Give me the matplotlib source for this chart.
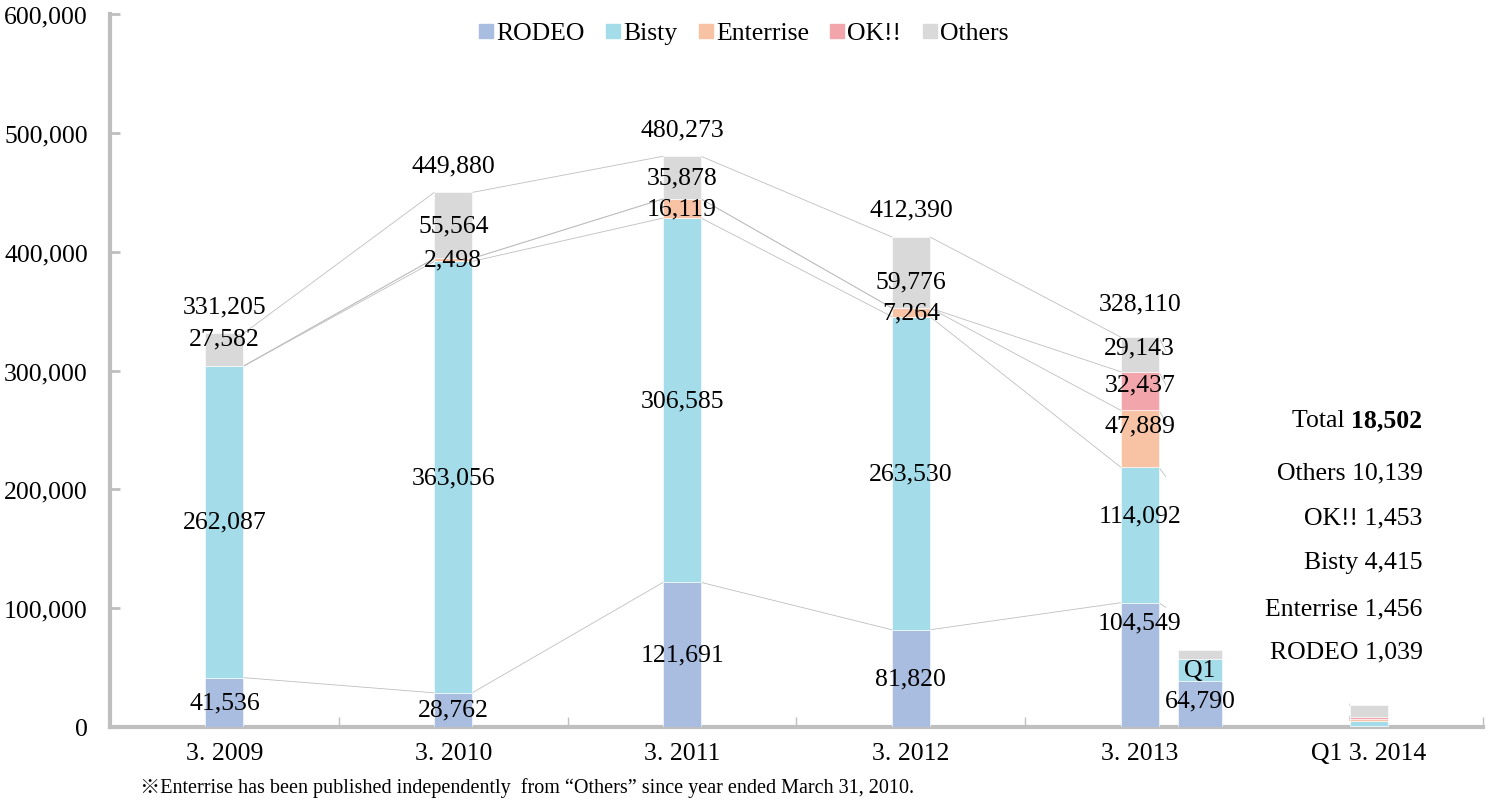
'''
Net sales by brand, stacked bars with Excel-style series lines
'''
import numpy as np
import matplotlib
matplotlib.use('Agg')
import matplotlib.pyplot as plt
from matplotlib.lines import Line2D
from matplotlib.patches import Rectangle

# ---- data ----
years = ['3. 2009', '3. 2010', '3. 2011', '3. 2012', '3. 2013', 'Q1 3. 2014']
brands = ['RODEO', 'Bisty', 'Enterrise', 'OK!!', 'Others']
rodeo = [41536, 28762, 121691, 81820, 104549, 1039]
bisty = [262087, 363056, 306585, 263530, 114092, 4415]
enterrise = [0, 2498, 16119, 7264, 47889, 1456]
okk = [0, 0, 0, 0, 32437, 1453]
others = [27582, 55564, 35878, 59776, 29143, 10139]
totals = [331205, 449880, 480273, 412390, 328110, 18502]

# Q1 of year ended 3.2013 (comparison bar)
q1_prev = [38700, 18500, 0, 0, 7590]
q1_prev_total = 64790

# ---- style ----
colors = ['#a9bde0', '#a5dcea', '#f7c3a4', '#f2a5aa', '#d9d9d9']
grey = '#bfbfbf'
FS = 18.5
plt.rcParams['font.family'] = ['Liberation Serif', 'Noto Sans CJK JP']

# manual label nudges in pixels (series index, category index) -> dy (+ = up)
nudge = {(4, 0): 11, (4, 3): -9, (4, 4): 7, (3, 4): 7, (2, 4): 13,
         (1, 4): 20, (0, 4): 42}
total_nudge = {4: 34}

fig = plt.figure(figsize=(14.94, 8.03), dpi=100)
ax = fig.add_axes([110/1494, 75/803, 1373/1494, 713/803])

def ydata(ypix):
    # pixel row of the reference -> data value
    return (728 - ypix) / 713 * 600000

series = [rodeo, bisty, enterrise, okk, others]
x = np.arange(len(years))
w = 0.166
bottom = np.zeros(len(years))
tops = []
for s, vals in enumerate(series):
    vals = np.array(vals, dtype=float)
    ax.bar(x, vals, w, bottom=bottom, color=colors[s], edgecolor='white',
           linewidth=0.4, zorder=3)
    for i, v in enumerate(vals):
        if v <= 0 or i == 5:
            continue
        dy = nudge.get((s, i), 0) * 0.72
        ax.annotate(f'{int(v):,}', (x[i], bottom[i] + v / 2), xytext=(0, dy),
                    textcoords='offset points', ha='center', va='center',
                    fontsize=FS, zorder=5)
    bottom = bottom + vals
    tops.append(bottom.copy())

# totals above bars
for i, t in enumerate(totals[:5]):
    dy = total_nudge.get(i, 27) * 0.72
    ax.annotate(f'{t:,}', (x[i], t), xytext=(0, dy), textcoords='offset points',
                ha='center', va='center', fontsize=FS, zorder=5)

# series lines between adjacent bars
for s in range(len(series)):
    for i in range(len(years) - 1):
        ax.plot([x[i] + w/2, x[i+1] - w/2], [tops[s][i], tops[s][i+1]],
                color=grey, lw=0.6, zorder=1)

# white text box over the lines (as in the original)
px = 1373 / 6.0
ax.add_patch(Rectangle((4 + (1166 - 1140)/px, 100), (1349 - 1166)/px, 335000,
                       facecolor='white', edgecolor='none', zorder=2))

# Q1 comparison bar
xq = 4 + 0.264
wq = 0.19
b = 0.0
mids = []
for s, v in enumerate(q1_prev):
    if v > 0:
        ax.bar(xq, v, wq, bottom=b, color=colors[s], edgecolor='white',
               linewidth=0.4, zorder=3)
    mids.append(b + v/2)
    b += v
ax.text(xq, mids[1], 'Q1', ha='center', va='center', fontsize=FS, zorder=5)
ax.annotate(f'{q1_prev_total:,}', (xq, mids[0]), xytext=(0, 4*0.72),
            textcoords='offset points', ha='center', va='center',
            fontsize=FS, zorder=6)

# breakdown text for Q1 3.2014
xr = 5 + (1423 - 1369)/px
ypix = [421, 473, 518, 563, 609, 652]
tb = ax.text(xr, ydata(ypix[0]), f'{totals[5]:,}', ha='right', va='center',
             fontsize=FS, fontweight='bold', zorder=5)
fig.canvas.draw()
bw = tb.get_window_extent().width
ax.annotate('Total ', (xr, ydata(ypix[0])), xytext=(-bw*0.72, 0),
            textcoords='offset points', ha='right', va='center', fontsize=FS,
            zorder=5)
for k, s in enumerate([4, 3, 1, 2, 0]):
    ax.text(xr, ydata(ypix[k+1]), f'{brands[s]} {series[s][5]:,}',
            ha='right', va='center', fontsize=FS, zorder=5)

# axes
ax.set_xlim(-0.5, 5.5)
ax.set_ylim(0, 600000)
ax.set_yticks(np.arange(0, 600001, 100000))
ax.set_yticklabels([f'{v:,}' for v in range(0, 600001, 100000)])
ax.set_xticks(np.arange(-0.5, 5.6, 1.0))
ax.set_xticklabels([])
ax.set_xticks(x, minor=True)
ax.set_xticklabels(years, minor=True)
ax.tick_params(axis='x', which='minor', length=0, pad=11, labelsize=FS)
ax.tick_params(axis='x', which='major', direction='in', length=7, color=grey, width=1)
ax.tick_params(axis='y', direction='in', length=7, color=grey, width=2, pad=16,
               labelsize=FS)
for side in ['top', 'right']:
    ax.spines[side].set_visible(False)
for side in ['left', 'bottom']:
    ax.spines[side].set_color(grey)
    ax.spines[side].set_linewidth(3)

# legend
handles = [Line2D([], [], marker='s', ls='none', color=c, markersize=10) for c in colors]
fig.legend(handles, brands, loc='center', bbox_to_anchor=(744/1494, 1 - 34/803),
           ncol=5, frameon=False, fontsize=FS, handlelength=0.5,
           handletextpad=0.15, columnspacing=0.85)

fig.text(140/1494, 1 - 788/803,
         '※Enterrise has been published independently  from \u201cOthers\u201d since year ended March 31, 2010.',
         fontsize=14.5, va='center', ha='left')

fig.savefig('out.png', dpi=100)
